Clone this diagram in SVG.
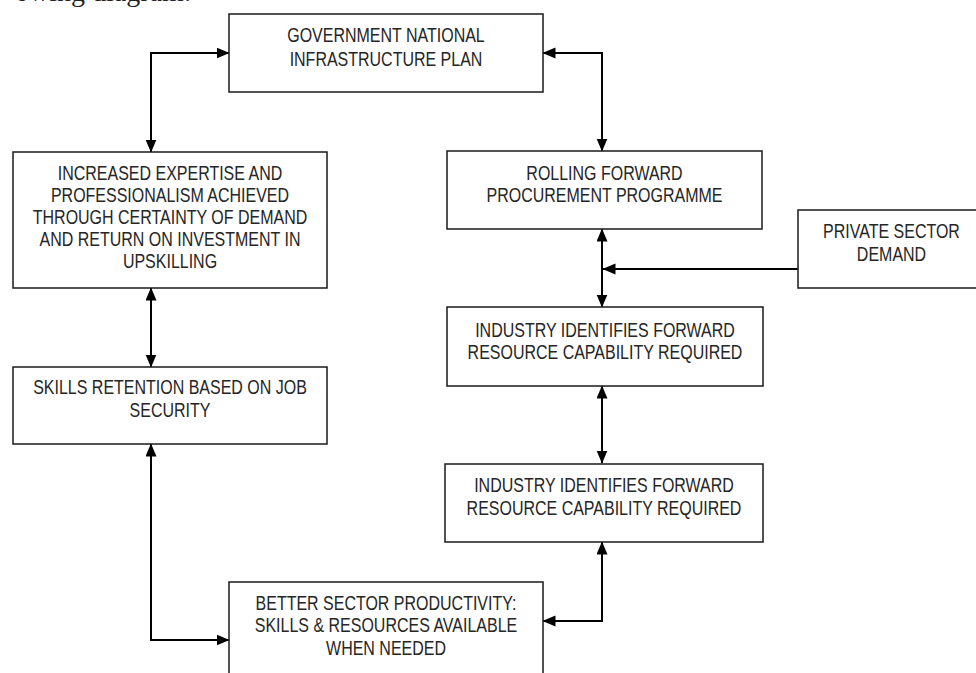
<svg xmlns="http://www.w3.org/2000/svg" width="976" height="673" viewBox="0 0 976 673">
<style>
.box{fill:#fff;stroke:#1a1a1a;stroke-width:1.5}
.lbl{font-family:"Liberation Sans",Arial,sans-serif;font-size:19.5px;fill:#262626;text-anchor:middle}
.con{fill:none;stroke:#000;stroke-width:2}
.bi{marker-start:url(#ah);marker-end:url(#ah)}
.one{marker-end:url(#ah)}
.cap{font-family:"Liberation Serif","Times New Roman",serif;font-size:28px;fill:#222}
</style>
<defs>
<marker id="ah" markerUnits="userSpaceOnUse" markerWidth="13" markerHeight="12" refX="12.5" refY="5.5" orient="auto-start-reverse">
<path d="M0,0 L13,5.5 L0,11 z" fill="#000"/>
</marker>
</defs>
<rect width="976" height="673" fill="#fff"/>
<text class="cap" x="15" y="0.6">owing diagram:</text>
<g id="connectors">
<path class="con bi" d="M229,53 H151 V152"/>
<path class="con bi" d="M543,53 H602 V151"/>
<path class="con bi" d="M602,229 V307"/>
<path class="con one" d="M798,269 H603"/>
<path class="con bi" d="M602,386 V463"/>
<path class="con bi" d="M602,542 V621 H543"/>
<path class="con bi" d="M151,288 V367"/>
<path class="con bi" d="M151,444 V640 H229"/>
</g>
<g id="gov">
<rect class="box" x="229" y="14" width="314" height="78"/>
<g transform="translate(386 0) scale(0.82 1)">
<text class="lbl" x="0" y="42">GOVERNMENT NATIONAL</text>
<text class="lbl" x="0" y="66.5">INFRASTRUCTURE PLAN</text>
</g>
</g>
<g id="expertise">
<rect class="box" x="13" y="152" width="314" height="136"/>
<g transform="translate(170 0) scale(0.82 1)">
<text class="lbl" x="0" y="180">INCREASED EXPERTISE AND</text>
<text class="lbl" x="0" y="202">PROFESSIONALISM ACHIEVED</text>
<text class="lbl" x="0" y="224">THROUGH CERTAINTY OF DEMAND</text>
<text class="lbl" x="0" y="246">AND RETURN ON INVESTMENT IN</text>
<text class="lbl" x="0" y="268.5">UPSKILLING</text>
</g>
</g>
<g id="rolling">
<rect class="box" x="447" y="151" width="315" height="78"/>
<g transform="translate(604.5 0) scale(0.82 1)">
<text class="lbl" x="0" y="180">ROLLING FORWARD</text>
<text class="lbl" x="0" y="202.5">PROCUREMENT PROGRAMME</text>
</g>
</g>
<g id="private">
<rect class="box" x="798" y="210" width="190" height="78"/>
<g transform="translate(891.5 0) scale(0.82 1)">
<text class="lbl" x="0" y="238.5">PRIVATE SECTOR</text>
<text class="lbl" x="0" y="261">DEMAND</text>
</g>
</g>
<g id="industry1">
<rect class="box" x="447" y="307" width="316" height="79"/>
<g transform="translate(605 0) scale(0.82 1)">
<text class="lbl" x="0" y="336.7">INDUSTRY IDENTIFIES FORWARD</text>
<text class="lbl" x="0" y="359.3">RESOURCE CAPABILITY REQUIRED</text>
</g>
</g>
<g id="industry2">
<rect class="box" x="445" y="464" width="318" height="78"/>
<g transform="translate(604 0) scale(0.82 1)">
<text class="lbl" x="0" y="491.7">INDUSTRY IDENTIFIES FORWARD</text>
<text class="lbl" x="0" y="515">RESOURCE CAPABILITY REQUIRED</text>
</g>
</g>
<g id="skills">
<rect class="box" x="13" y="367" width="314" height="77"/>
<g transform="translate(170 0) scale(0.82 1)">
<text class="lbl" x="0" y="394.3">SKILLS RETENTION BASED ON JOB</text>
<text class="lbl" x="0" y="417.3">SECURITY</text>
</g>
</g>
<g id="productivity">
<rect class="box" x="229" y="582" width="314" height="110"/>
<g transform="translate(386 0) scale(0.82 1)">
<text class="lbl" x="0" y="610">BETTER SECTOR PRODUCTIVITY:</text>
<text class="lbl" x="0" y="632.3">SKILLS &amp; RESOURCES AVAILABLE</text>
<text class="lbl" x="0" y="655">WHEN NEEDED</text>
</g>
</g>
</svg>
